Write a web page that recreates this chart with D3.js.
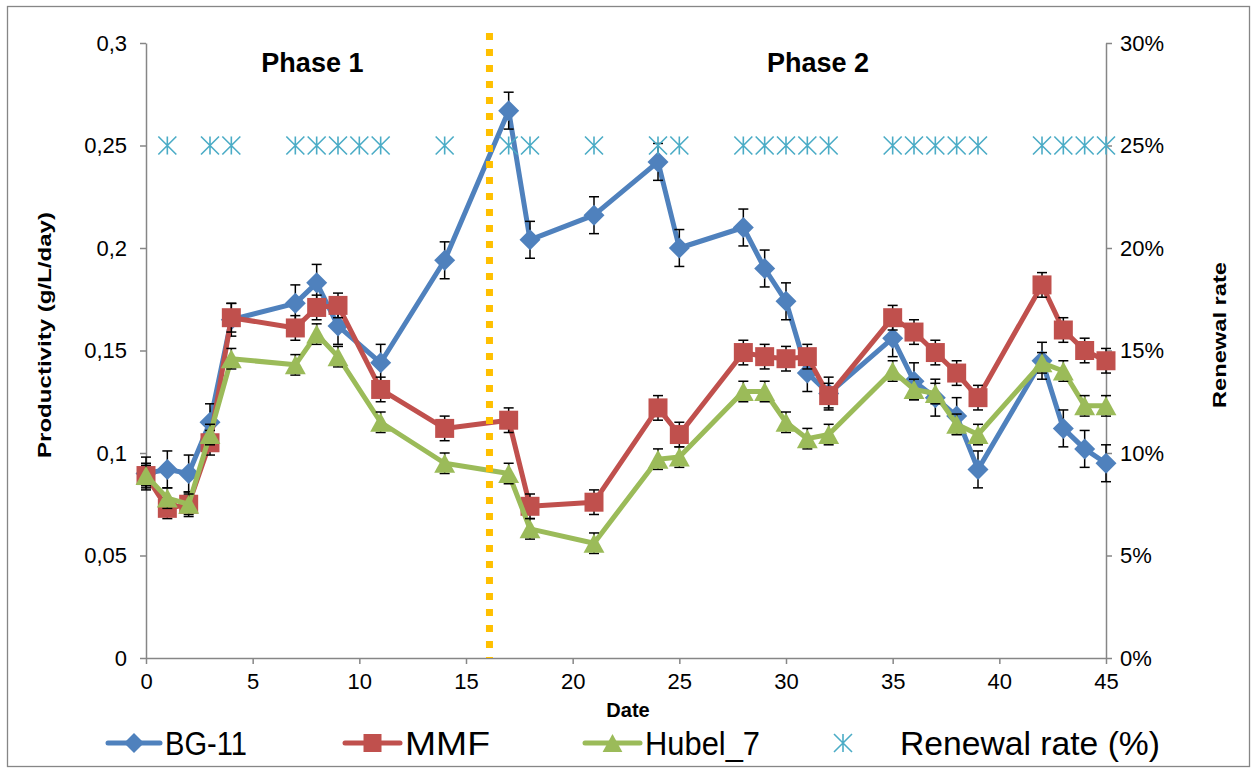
<!DOCTYPE html>
<html>
<head>
<meta charset="utf-8">
<script src="https://cdn.jsdelivr.net/npm/d3@7"></script>
<style>
  html, body { margin: 0; padding: 0; background: #fff; }
  svg { display: block; }
  text { font-family: "Liberation Sans", Arial, sans-serif; fill: #000; }
</style>
</head>
<body>
<svg id="chart" width="1255" height="774"></svg>
<script>
// Sampling days (x) and productivity (g/L/day) for each medium
const days = [0, 1, 2, 3, 4, 7, 8, 9, 11, 14, 17, 18, 21, 24, 25, 28, 29, 30, 31, 32, 35, 36, 37, 38, 39, 42, 43, 44, 45];
const bg11 = [0.090, 0.092, 0.090, 0.115, 0.165, 0.173, 0.183, 0.162, 0.144, 0.194, 0.267, 0.204, 0.216, 0.242, 0.200, 0.210, 0.190, 0.174, 0.139, 0.129, 0.156, 0.135, 0.127, 0.118, 0.092, 0.145, 0.112, 0.102, 0.095];
const bg11Err = [0.008, 0.009, 0.009, 0.009, 0.008, 0.009, 0.009, 0.009, 0.009, 0.009, 0.009, 0.009, 0.009, 0.009, 0.009, 0.009, 0.009, 0.009, 0.009, 0.008, 0.009, 0.009, 0.009, 0.009, 0.009, 0.009, 0.009, 0.009, 0.009];
const mmf = [0.089, 0.073, 0.075, 0.105, 0.166, 0.161, 0.171, 0.172, 0.131, 0.112, 0.116, 0.074, 0.076, 0.122, 0.109, 0.149, 0.147, 0.146, 0.147, 0.128, 0.166, 0.159, 0.149, 0.139, 0.127, 0.182, 0.160, 0.150, 0.145];
const mmfErr = [0.006, 0.005, 0.006, 0.006, 0.007, 0.006, 0.006, 0.006, 0.006, 0.006, 0.006, 0.006, 0.006, 0.006, 0.006, 0.006, 0.006, 0.006, 0.006, 0.006, 0.006, 0.006, 0.006, 0.006, 0.006, 0.006, 0.006, 0.006, 0.006];
const hubel7 = [0.089, 0.078, 0.075, 0.109, 0.146, 0.143, 0.158, 0.147, 0.115, 0.095, 0.090, 0.063, 0.056, 0.097, 0.098, 0.130, 0.130, 0.115, 0.107, 0.109, 0.140, 0.131, 0.129, 0.114, 0.109, 0.144, 0.140, 0.123, 0.123];
const hubel7Err = [0.005, 0.005, 0.005, 0.005, 0.005, 0.005, 0.005, 0.005, 0.005, 0.005, 0.005, 0.005, 0.005, 0.005, 0.005, 0.005, 0.005, 0.005, 0.005, 0.005, 0.005, 0.005, 0.005, 0.005, 0.005, 0.005, 0.005, 0.005, 0.005];

// Days on which the medium was renewed, and the renewal rate (fraction)
const renewalDays = [1, 3, 4, 7, 8, 9, 10, 11, 14, 17, 18, 21, 24, 25, 28, 29, 30, 31, 32, 35, 36, 37, 38, 39, 42, 43, 44, 45];
const renewalRate = [0.25, 0.25, 0.25, 0.25, 0.25, 0.25, 0.25, 0.25, 0.25, 0.25, 0.25, 0.25, 0.25, 0.25, 0.25, 0.25, 0.25, 0.25, 0.25, 0.25, 0.25, 0.25, 0.25, 0.25, 0.25, 0.25, 0.25, 0.25];

// Axis ticks and the phase boundary
const xTicks = [0, 5, 10, 15, 20, 25, 30, 35, 40, 45];
const yTicks = [0, 0.05, 0.1, 0.15, 0.2, 0.25, 0.3];
const rTicks = [0, 0.05, 0.1, 0.15, 0.2, 0.25, 0.3];
const phaseBoundary = 16.1;
const phaseLabels = ["Phase 1", "Phase 2"];
const phaseCenters = [7.8, 31.5];

const C = { blue: "#4F81BD", red: "#C0504D", green: "#9BBB59", cyan: "#4BACC6", orange: "#FFC000", axis: "#868686" };

const svg = d3.select("#chart");
const x = d3.scaleLinear().domain([0, 45]).range([146, 1106]);
const y = d3.scaleLinear().domain([0, 0.3]).range([658, 43]);
const yR = d3.scaleLinear().domain([0, 0.3]).range([658, 43]);

const comma = d3.formatLocale({ decimal: ",", thousands: ".", grouping: [3], currency: ["", "€"] });
const fmtY = v => v === 0 ? "0" : comma.format("~g")(v);
const fmtR = d3.format(".0%");

// Outer chart frame
svg.append("rect").attr("x", 7.5).attr("y", 6.5).attr("width", 1242).attr("height", 760)
  .attr("fill", "#fff").attr("stroke", C.axis).attr("stroke-width", 1.3);

function styleAxis(g) {
  g.selectAll(".domain").attr("stroke", C.axis).attr("stroke-width", 1.5);
  g.selectAll(".tick line").attr("stroke", C.axis).attr("stroke-width", 1.5);
  g.selectAll(".tick text").attr("font-size", 22).attr("font-family", "Liberation Sans, Arial, sans-serif").attr("fill", "#000");
}

svg.append("g").attr("transform", "translate(0,658)")
  .call(d3.axisBottom(x).tickValues(xTicks).tickSize(6).tickSizeOuter(0).tickPadding(9).tickFormat(d3.format("d")))
  .call(styleAxis);
svg.append("g").attr("transform", "translate(146,0)")
  .call(d3.axisLeft(y).tickValues(yTicks).tickSize(6).tickSizeOuter(0).tickPadding(13).tickFormat(fmtY))
  .call(styleAxis);
svg.append("g").attr("transform", "translate(1106,0)")
  .call(d3.axisRight(yR).tickValues(rTicks).tickSize(6).tickSizeOuter(0).tickPadding(8).tickFormat(fmtR))
  .call(styleAxis);

// Axis titles
svg.append("text").attr("x", 628).attr("y", 717).attr("text-anchor", "middle")
  .attr("font-weight", "bold").attr("font-size", 20).text("Date");
svg.append("text").attr("transform", "translate(51,335) rotate(-90)").attr("text-anchor", "middle")
  .attr("font-weight", "bold").attr("font-size", 19)
  .attr("textLength", 246).attr("lengthAdjust", "spacingAndGlyphs").text("Productivity (g/L/day)");
svg.append("text").attr("transform", "translate(1226,335) rotate(-90)").attr("text-anchor", "middle")
  .attr("font-weight", "bold").attr("font-size", 19)
  .attr("textLength", 146).attr("lengthAdjust", "spacingAndGlyphs").text("Renewal rate");

// Phase labels
phaseLabels.forEach((t, i) => {
  svg.append("text").attr("x", x(phaseCenters[i])).attr("y", 72).attr("text-anchor", "middle")
    .attr("font-weight", "bold").attr("font-size", 27).text(t);
});

// Marker shapes
const diamond = s => `M0,${-s}L${s},0L0,${s}L${-s},0Z`;
const square = s => `M${-s},${-s}H${s}V${s}H${-s}Z`;
const triangle = s => `M0,${-s}L${s * 1.1},${s}L${-s * 1.1},${s}Z`;
const asterisk = s => `M0,${-s}V${s}M${-s},${-s}L${s},${s}M${-s},${s}L${s},${-s}`;

const series = [
  { name: "BG-11", vals: bg11, err: bg11Err, color: C.blue, shape: diamond(10.5) },
  { name: "MMF", vals: mmf, err: mmfErr, color: C.red, shape: square(9.5) },
  { name: "Hubel_7", vals: hubel7, err: hubel7Err, color: C.green, shape: triangle(9.5) }
];

const line = d3.line().x(d => x(d.x)).y(d => y(d.y));

// Each series: line, then error bars, then markers on top
series.forEach(s => {
  const pts = days.map((d, i) => ({ x: d, y: s.vals[i], e: s.err[i] }));
  const g = svg.append("g");
  g.append("path").datum(pts).attr("d", line).attr("fill", "none")
    .attr("stroke", s.color).attr("stroke-width", 5).attr("stroke-linejoin", "round");
  const eb = g.selectAll("g.eb").data(pts).join("g").attr("class", "eb")
    .attr("stroke", "#000").attr("stroke-width", 1.5);
  eb.append("line").attr("x1", d => x(d.x)).attr("x2", d => x(d.x))
    .attr("y1", d => y(d.y - d.e)).attr("y2", d => y(d.y + d.e));
  eb.append("line").attr("x1", d => x(d.x) - 5).attr("x2", d => x(d.x) + 5)
    .attr("y1", d => y(d.y + d.e)).attr("y2", d => y(d.y + d.e));
  eb.append("line").attr("x1", d => x(d.x) - 5).attr("x2", d => x(d.x) + 5)
    .attr("y1", d => y(d.y - d.e)).attr("y2", d => y(d.y - d.e));
  g.selectAll("path.mk").data(pts).join("path").attr("class", "mk")
    .attr("transform", d => `translate(${x(d.x)},${y(d.y)})`)
    .attr("d", s.shape).attr("fill", s.color);
});

// Renewal rate markers on the right-hand axis
svg.append("g").selectAll("path").data(renewalDays.map((d, i) => ({ x: d, r: renewalRate[i] })))
  .join("path").attr("transform", d => `translate(${x(d.x)},${yR(d.r)})`)
  .attr("d", asterisk(9)).attr("fill", "none").attr("stroke", C.cyan).attr("stroke-width", 1.6);

// Phase boundary
svg.append("line").attr("x1", x(phaseBoundary)).attr("x2", x(phaseBoundary))
  .attr("y1", 33).attr("y2", y(0)).attr("stroke", C.orange).attr("stroke-width", 7)
  .attr("stroke-dasharray", "7,9");

// Legend
const legY = 743;
const leg = [
  { name: "BG-11", color: C.blue, shape: diamond(10), x0: 108, x1: 160, tx: 165, tl: 82 },
  { name: "MMF", color: C.red, shape: square(9), x0: 345, x1: 400, tx: 405, tl: 85 },
  { name: "Hubel_7", color: C.green, shape: triangle(9), x0: 585, x1: 640, tx: 645, tl: 115 }
];
const lg = svg.append("g");
leg.forEach(l => {
  lg.append("line").attr("x1", l.x0).attr("x2", l.x1).attr("y1", legY).attr("y2", legY)
    .attr("stroke", l.color).attr("stroke-width", 5).attr("stroke-linecap", "round");
  lg.append("path").attr("transform", `translate(${(l.x0 + l.x1) / 2},${legY})`).attr("d", l.shape).attr("fill", l.color);
  lg.append("text").attr("x", l.tx).attr("y", legY + 12).attr("font-size", 33)
    .attr("font-family", "Liberation Sans Narrow, Arial Narrow, sans-serif")
    .attr("textLength", l.tl).attr("lengthAdjust", "spacingAndGlyphs").text(l.name);
});
lg.append("path").attr("transform", `translate(843,${legY})`).attr("d", asterisk(9))
  .attr("fill", "none").attr("stroke", C.cyan).attr("stroke-width", 1.6);
lg.append("text").attr("x", 900).attr("y", legY + 12).attr("font-size", 33)
  .attr("font-family", "Liberation Sans Narrow, Arial Narrow, sans-serif")
  .attr("textLength", 260).attr("lengthAdjust", "spacingAndGlyphs").text("Renewal rate (%)");
</script>
</body>
</html>
